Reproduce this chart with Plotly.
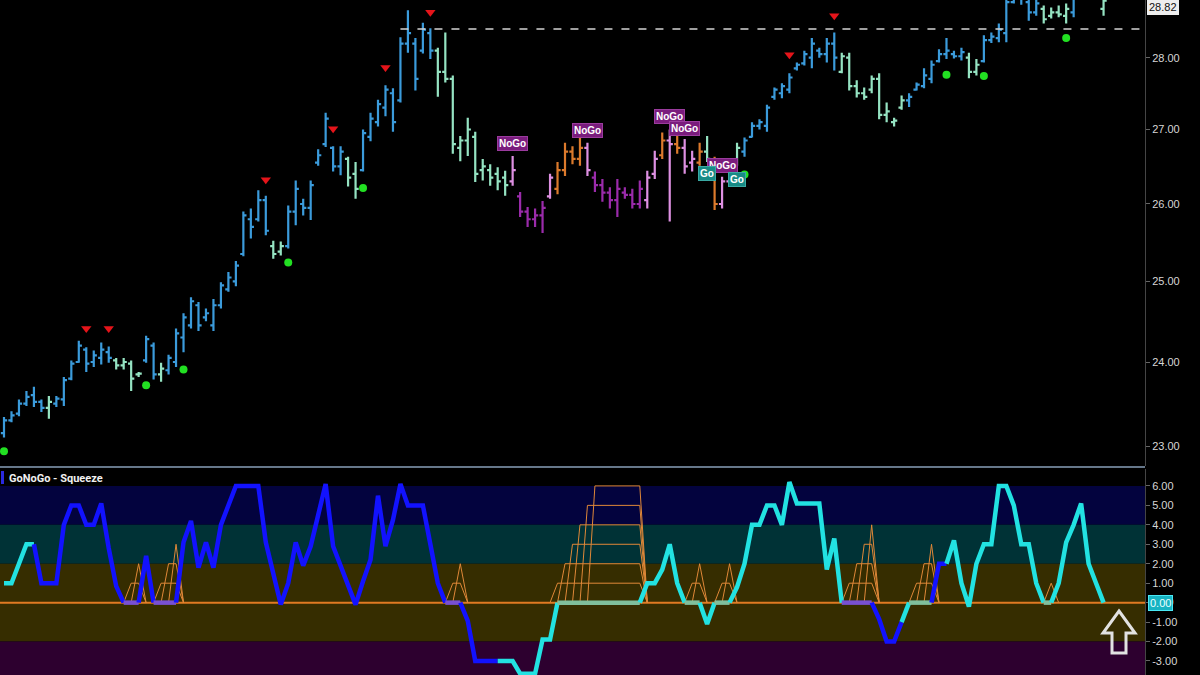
import math
import plotly.graph_objects as go

# ---------------- price bars (one per session) ----------------
bar_open = [23.15, 23.30, 23.38, 23.50, 23.60, 23.52, 23.45, 23.50, 23.55, 23.80,
            24.00, 24.15, 24.00, 24.05, 24.12, 24.02, 23.96, 23.98, 23.85, 24.02,
            24.20, 23.85, 23.90, 24.00, 24.30, 24.45, 24.70, 24.55, 24.45, 24.70,
            24.90, 25.00, 25.35, 25.80, 25.80, 26.05, 25.45, 25.38, 25.45, 25.90,
            26.00, 25.95, 26.55, 26.80, 26.75, 26.50, 26.60, 26.40, 26.45, 26.90,
            27.10, 27.30, 27.50, 27.40, 28.20, 28.20, 28.10, 28.35, 28.10, 27.80,
            27.70, 26.75, 26.85, 26.90, 26.45, 26.45, 26.40, 26.35, 26.30, 26.10,
            25.90, 25.80, 25.85, 26.10, 26.20, 26.45, 26.70, 26.60, 26.75, 26.35,
            26.25, 26.15, 26.05, 26.15, 26.12, 26.00, 26.05, 26.40, 26.65, 26.85,
            26.80, 26.75, 26.55, 26.55, 26.70, 26.55, 26.00, 26.30, 26.55, 26.70,
            26.90, 27.05, 27.05, 27.45, 27.50, 27.55, 27.85, 27.92, 28.00, 28.10,
            28.05, 28.20, 27.80, 28.00, 27.60, 27.50, 27.55, 27.70, 27.20, 27.10,
            27.30, 27.40, 27.55, 27.60, 27.70, 27.95, 28.05, 28.05, 28.02, 28.00,
            27.80, 27.95, 28.25, 28.28, 28.35, 28.80, 28.85, 28.80, 28.65, 28.70,
            28.60, 28.65, 28.60, 28.65, 28.92, 29.10, 29.15, 28.70]
bar_high = [23.34, 23.41, 23.55, 23.65, 23.70, 23.55, 23.59, 23.59, 23.82, 24.02,
            24.26, 24.18, 24.14, 24.24, 24.19, 24.05, 24.05, 24.02, 23.88, 24.32,
            24.24, 23.99, 24.09, 24.41, 24.60, 24.80, 24.74, 24.66, 24.78, 24.99,
            25.12, 25.26, 25.90, 25.94, 26.18, 26.11, 25.52, 25.51, 25.98, 26.31,
            26.07, 26.31, 26.73, 27.23, 26.77, 26.77, 26.63, 26.56, 27.00, 27.23,
            27.41, 27.61, 27.57, 28.29, 28.68, 28.28, 28.50, 28.42, 28.14, 28.36,
            27.75, 26.91, 27.16, 26.97, 26.60, 26.53, 26.49, 26.44, 26.64, 26.16,
            25.96, 25.94, 26.04, 26.40, 26.56, 26.82, 26.77, 26.97, 26.82, 26.43,
            26.33, 26.22, 26.33, 26.22, 26.20, 26.31, 26.44, 26.71, 26.96, 27.00,
            26.96, 26.87, 26.71, 26.82, 26.91, 26.63, 26.36, 26.37, 26.82, 26.89,
            27.10, 27.14, 27.34, 27.58, 27.64, 27.78, 27.93, 28.10, 28.28, 28.14,
            28.28, 28.36, 28.07, 28.07, 27.68, 27.58, 27.75, 27.78, 27.37, 27.16,
            27.47, 27.50, 27.65, 27.85, 27.96, 28.12, 28.28, 28.10, 28.14, 28.07,
            27.98, 28.32, 28.36, 28.49, 28.86, 28.95, 28.98, 28.85, 28.85, 28.75,
            28.72, 28.75, 28.78, 28.90, 29.15, 29.25, 29.20, 28.85]
bar_low = [23.10, 23.28, 23.35, 23.47, 23.46, 23.40, 23.32, 23.46, 23.47, 23.78,
           23.99, 23.88, 23.94, 23.97, 23.99, 23.91, 23.91, 23.65, 23.82, 23.99,
           23.79, 23.76, 23.85, 23.94, 24.12, 24.41, 24.38, 24.50, 24.38, 24.66,
           24.87, 24.94, 25.32, 25.55, 25.77, 25.59, 25.29, 25.33, 25.42, 25.72,
           25.85, 25.79, 26.51, 26.76, 26.43, 26.38, 26.23, 26.07, 26.43, 26.84,
           27.04, 27.18, 26.97, 27.37, 28.07, 27.54, 28.06, 27.98, 27.45, 27.65,
           26.67, 26.57, 26.64, 26.29, 26.31, 26.24, 26.18, 26.11, 26.24, 25.83,
           25.70, 25.70, 25.62, 26.07, 26.13, 26.37, 26.53, 26.51, 26.37, 26.16,
           26.03, 25.94, 25.83, 26.07, 25.94, 25.94, 25.94, 26.33, 26.60, 25.77,
           26.67, 26.40, 26.43, 26.51, 26.56, 25.92, 25.94, 26.24, 26.51, 26.63,
           26.89, 27.00, 26.97, 27.41, 27.43, 27.50, 27.82, 27.89, 27.85, 28.00,
           27.93, 27.82, 27.78, 27.54, 27.44, 27.41, 27.50, 27.14, 27.10, 27.04,
           27.27, 27.31, 27.54, 27.57, 27.64, 27.93, 27.98, 27.99, 27.96, 27.71,
           27.75, 27.93, 28.21, 28.22, 28.22, 28.78, 28.76, 28.53, 28.60, 28.49,
           28.56, 28.58, 28.49, 28.58, 28.90, 29.00, 28.95, 28.60]
bar_close = [23.30, 23.36, 23.50, 23.58, 23.52, 23.45, 23.52, 23.56, 23.78, 23.98,
             24.20, 23.98, 24.08, 24.15, 24.05, 23.96, 24.00, 23.80, 23.86, 24.28,
             23.85, 23.92, 24.05, 24.35, 24.55, 24.75, 24.45, 24.60, 24.70, 24.95,
             25.05, 25.20, 25.85, 25.70, 26.05, 25.65, 25.35, 25.45, 25.90, 26.20,
             25.95, 26.25, 26.65, 27.15, 26.50, 26.70, 26.35, 26.20, 26.95, 27.15,
             27.35, 27.55, 27.10, 28.20, 28.35, 27.70, 28.40, 28.10, 27.80, 27.70,
             26.80, 26.85, 27.00, 26.40, 26.50, 26.35, 26.30, 26.25, 26.45, 25.90,
             25.80, 25.85, 25.95, 26.35, 26.45, 26.70, 26.60, 26.75, 26.45, 26.25,
             26.15, 26.05, 26.20, 26.12, 26.00, 26.20, 26.35, 26.60, 26.85, 26.80,
             26.75, 26.50, 26.60, 26.70, 26.60, 26.00, 26.30, 26.28, 26.75, 26.85,
             27.05, 27.10, 27.30, 27.55, 27.60, 27.72, 27.90, 28.05, 28.20, 28.05,
             28.20, 28.00, 28.02, 27.60, 27.50, 27.45, 27.70, 27.20, 27.25, 27.12,
             27.40, 27.45, 27.62, 27.75, 27.90, 28.05, 28.10, 28.02, 28.08, 27.80,
             27.90, 28.25, 28.30, 28.40, 28.80, 28.90, 28.92, 28.65, 28.78, 28.55,
             28.65, 28.62, 28.70, 28.85, 29.10, 29.15, 29.00, 28.82]

# GoNoGo trend state of each bar, run-length coded (state, number of bars)
trend_runs = [("B", 6), ("g", 1), ("B", 8), ("g", 4), ("B", 2), ("g", 1), ("B", 14),
              ("g", 2), ("B", 8), ("g", 2), ("B", 10), ("g", 10), ("p", 1), ("P", 4),
              ("p", 1), ("O", 4), ("p", 1), ("P", 7), ("p", 2), ("O", 1), ("p", 1),
              ("O", 1), ("p", 2), ("O", 1), ("g", 1), ("O", 1), ("p", 2), ("g", 1),
              ("B", 13), ("g", 9), ("B", 8), ("g", 2), ("B", 8), ("g", 4), ("B", 4),
              ("g", 1)]

# trend exhaustion markers
peak_bars = [11, 14, 35, 44, 51, 57, 105, 111]
peak_prices = [24.41, 24.41, 26.32, 27.01, 27.86, 28.65, 28.04, 28.60]
dip_bars = [0, 19, 24, 38, 48, 99, 126, 131, 142]
dip_prices = [22.94, 23.72, 23.91, 25.24, 26.21, 26.39, 27.76, 27.74, 28.28]

# trend labels
label_bars = [68, 78, 89, 91, 96, 94, 98]
label_texts = ["NoGo", "NoGo", "NoGo", "NoGo", "NoGo", "Go", "Go"]
label_prices = [26.81, 26.99, 27.18, 27.01, 26.51, 26.40, 26.32]

resistance_price = 28.41
resistance_start_bar = 53

price_ticks = [23, 24, 25, 26, 27, 28]

# ---------------- GoNoGo oscillator / squeeze ----------------
osc = [1, 1, 2, 3, 3, 1, 1, 1, 4, 5, 5, 4, 4, 5.1, 2.8, 0.85, 0, 0, 0, 2.4,
       0, 0, 0, 0, 3.1, 4.2, 1.8, 3.1, 1.8, 4, 5, 6, 6, 6, 6, 3.1, 1.5, -0.1, 1, 3.1,
       1.9, 2.9, 4.5, 6.1, 2.9, 1.9, 0.9, -0.1, 1.1, 2.2, 5.5, 2.9, 4.25, 6.1, 5, 5, 5, 3, 1, 0,
       0, 0, -0.94, -3, -3, -3, -3, -3, -3, -3.65, -3.65, -3.65, -1.9, -1.9, 0, 0, 0, 0, 0, 0,
       0, 0, 0, 0, 0, 0, 1, 1, 1.7, 3, 1, 0, 0, 0, -1.1, 0, 0, 0, 0.8, 2,
       4, 4, 5, 5, 4, 6.2, 5.1, 5.1, 5.1, 5.1, 1.7, 3.3, 0, 0, 0, 0, 0, -0.85, -2, -2,
       -1, 0, 0, 0, 0, 2, 2, 3.2, 1, -0.2, 2, 3, 3, 6, 6, 5, 3, 3, 1, 0,
       0, 1, 3.1, 4, 5.1, 2, 1, 0]
# colour state of the oscillator segment ending at each bar, run-length coded
osc_runs = [("C", 5), ("B", 12), ("P", 2), ("B", 2), ("P", 3), ("B", 36), ("P", 2),
            ("B", 5), ("C", 8), ("G", 11), ("C", 6), ("G", 2), ("C", 2), ("G", 2),
            ("C", 15), ("P", 4), ("B", 4), ("C", 1), ("G", 3), ("B", 2), ("C", 13),
            ("G", 1), ("C", 7)]
squeeze = [0] * 17 + [1, 2, 0, 0, 1, 2, 3] + [0] * 36 + [1, 2] + [0] * 12 + \
          [1, 2, 3, 4, 5, 6, 6, 6, 6, 6, 6, 6] + [0] * 6 + [1, 2, 0, 0, 1, 2] + [0] * 15 + \
          [1, 2, 3, 4] + [0] * 5 + [1, 2, 3] + [0] * 15 + [1] + [0] * 7

osc_ticks = [-3, -2, -1, 0, 1, 2, 3, 4, 5, 6]

# ---------------- styling ----------------
trend_colors = {"B": "#3b9bdb", "g": "#95e3c2", "P": "#9b2bab", "p": "#de90e2", "O": "#dc7a2c"}
osc_colors = {"C": "#22e2e2", "B": "#1212ff", "G": "#80bf9c", "P": "#7850d2"}

n = len(bar_close)
bar_trend = [s for s, k in trend_runs for _ in range(k)]
osc_state = [s for s, k in osc_runs for _ in range(k)]
assert len(bar_trend) == n and len(osc_state) == n and len(osc) == n and len(squeeze) == n
for arr in (bar_open, bar_high, bar_low):
    assert len(arr) == n

W, H = 1200, 675
PLOT_W = 1145
BAR_STEP = 7.48
x_lo = -4 / BAR_STEP
x_hi = (PLOT_W - 4) / BAR_STEP
x_range = [x_lo, x_hi]

MAIN_BOTTOM_PX = 466
SUB_TOP_PX = 469
main_dom = [1 - MAIN_BOTTOM_PX / H, 1]
sub_dom = [0, 1 - SUB_TOP_PX / H]
price_range = [1.35734, math.log10(28.83)]
osc_range = [-3.72, 6.87]

xs = list(range(n))
fig = go.Figure()

# OHLC bars, one trace per trend colour
for code, col in trend_colors.items():
    pick = [bar_trend[i] == code for i in range(n)]
    fig.add_trace(go.Ohlc(
        x=xs,
        open=[v if p else None for v, p in zip(bar_open, pick)],
        high=[v if p else None for v, p in zip(bar_high, pick)],
        low=[v if p else None for v, p in zip(bar_low, pick)],
        close=[v if p else None for v, p in zip(bar_close, pick)],
        increasing=dict(line=dict(color=col, width=2.2)),
        decreasing=dict(line=dict(color=col, width=2.2)),
        tickwidth=0.42, hoverinfo="skip", showlegend=False,
        xaxis="x", yaxis="y"))

# resistance level
fig.add_trace(go.Scatter(x=[resistance_start_bar, x_hi], y=[resistance_price, resistance_price],
                         mode="lines", line=dict(color="#d4d4d4", width=1.6, dash="8px,9px"),
                         hoverinfo="skip", showlegend=False, xaxis="x", yaxis="y"))

fig.add_trace(go.Scatter(x=peak_bars, y=peak_prices, mode="markers",
                         marker=dict(symbol="triangle-down", size=9, color="#e5141a"),
                         hoverinfo="skip", showlegend=False, xaxis="x", yaxis="y"))
fig.add_trace(go.Scatter(x=dip_bars, y=dip_prices, mode="markers",
                         marker=dict(symbol="circle", size=8, color="#22e022"),
                         hoverinfo="skip", showlegend=False, xaxis="x", yaxis="y"))

# squeeze tents
sx, sy = [], []
for k in range(1, max(squeeze) + 1):
    i = 0
    while i < n:
        if squeeze[i] >= k:
            j = i
            while j + 1 < n and squeeze[j + 1] >= k:
                j += 1
            sx += [i - 1, i, j, j + 1, None]
            sy += [0, k, k, 0, None]
            i = j + 1
        else:
            i += 1
fig.add_trace(go.Scatter(x=sx, y=sy, mode="lines", line=dict(color="#e08838", width=1),
                         hoverinfo="skip", showlegend=False, xaxis="x2", yaxis="y2"))

# oscillator line, split by colour state
i = 1
while i < n:
    j = i
    while j + 1 < n and osc_state[j + 1] == osc_state[i]:
        j += 1
    seg = list(range(i - 1, j + 1))
    fig.add_trace(go.Scatter(x=seg, y=[osc[t] for t in seg], mode="lines",
                             line=dict(color=osc_colors[osc_state[i]], width=4.5),
                             hoverinfo="skip", showlegend=False, xaxis="x2", yaxis="y2"))
    i = j + 1

# ---------------- shapes ----------------
shapes = []
bands = [(4, 6, "#03033e"), (2, 4, "#003236"), (-2, 2, "#362d00"), (osc_range[0], -2, "#2d002f")]
for y0, y1, col in bands:
    shapes.append(dict(type="rect", xref="paper", yref="y2", x0=0, x1=1, y0=y0, y1=y1,
                       fillcolor=col, line=dict(width=0), layer="below"))
shapes.append(dict(type="line", xref="paper", yref="y2", x0=0, x1=1, y0=0, y1=0,
                   line=dict(color="#e07a22", width=2), layer="below"))
sep_y = 1 - 467 / H
shapes.append(dict(type="line", xref="paper", yref="paper", x0=0, x1=1, y0=sep_y, y1=sep_y,
                   line=dict(color="#66778a", width=2)))
shapes.append(dict(type="rect", xref="paper", yref="paper", x0=1 / PLOT_W, x1=4 / PLOT_W,
                   y0=1 - 484 / H, y1=1 - 471 / H, fillcolor="#2a2ae0", line=dict(width=0)))
# up arrow marker in the oscillator panel
arrow_px = [(1119, 611), (1135, 633), (1126, 633), (1126, 653), (1112, 653), (1112, 633), (1103, 633)]
path = "M " + " L ".join(f"{px / PLOT_W:.5f},{1 - py / H:.5f}" for px, py in arrow_px) + " Z"
shapes.append(dict(type="path", xref="paper", yref="paper", path=path,
                   line=dict(color="#e2e2e2", width=3)))

# ---------------- annotations ----------------
ann = []
for b, t, p in zip(label_bars, label_texts, label_prices):
    go_lbl = t == "Go"
    ann.append(dict(x=b, y=math.log10(p), xref="x", yref="y", text=f"<b>{t}</b>", showarrow=False,
                    font=dict(family="Liberation Sans, Arial", size=10, color="#ffffff"),
                    bgcolor="#178b86" if go_lbl else "#7a1c7d",
                    bordercolor="#3aa9a3" if go_lbl else "#9a3b9d", borderwidth=1, borderpad=1))
ann.append(dict(x=1, y=math.log10(bar_close[-1]), xref="paper", yref="y", xanchor="left",
                yanchor="middle", xshift=2, yshift=-6, text=f"{bar_close[-1]:.2f}", showarrow=False,
                font=dict(family="Liberation Sans, Arial", size=11, color="#111111"),
                bgcolor="#eeeeee", bordercolor="#eeeeee", borderpad=1))
ann.append(dict(x=1, y=osc[-1], xref="paper", yref="y2", xanchor="left", yanchor="middle",
                xshift=3, text=f"{osc[-1]:.2f}", showarrow=False,
                font=dict(family="Liberation Sans, Arial", size=11, color="#eaffff"),
                bgcolor="#17b3c2", bordercolor="#4ae8f5", borderwidth=1, borderpad=1))
ann.append(dict(x=7 / PLOT_W, y=1 - 478 / H, xref="paper", yref="paper", xanchor="left",
                yanchor="middle", text="<b>GoNoGo - Squeeze</b>", showarrow=False,
                font=dict(family="Roboto, Liberation Sans", size=11, color="#f0f0f0")))

tick_font = dict(family="Liberation Sans, Arial", size=11, color="#d6d6d6")
fig.update_layout(
    width=W, height=H,
    margin=dict(l=0, r=W - PLOT_W, t=0, b=0),
    paper_bgcolor="#000000", plot_bgcolor="#000000",
    hovermode=False, showlegend=False,
    xaxis=dict(domain=[0, 1], anchor="y", range=x_range, type="linear", visible=False,
               rangeslider=dict(visible=False), fixedrange=True),
    xaxis2=dict(domain=[0, 1], anchor="y2", range=x_range, type="linear", visible=False,
                rangeslider=dict(visible=False), fixedrange=True),
    yaxis=dict(domain=main_dom, anchor="x", type="log", range=price_range, side="right",
               tickvals=price_ticks, ticktext=[f"{v:.2f}" for v in price_ticks],
               ticks="outside", ticklen=4, tickcolor="#666666", tickfont=tick_font,
               showgrid=False, zeroline=False, showline=True, linecolor="#454545", linewidth=1),
    yaxis2=dict(domain=sub_dom, anchor="x2", range=osc_range, side="right",
                tickvals=osc_ticks, ticktext=[f"{v:.2f}" for v in osc_ticks],
                ticks="outside", ticklen=4, tickcolor="#666666", tickfont=tick_font,
                showgrid=False, zeroline=False, showline=True, linecolor="#454545", linewidth=1),
    shapes=shapes, annotations=ann,
)

fig.write_html("out.html", config={"displayModeBar": False},
               post_script="document.body.style.margin='0';")
